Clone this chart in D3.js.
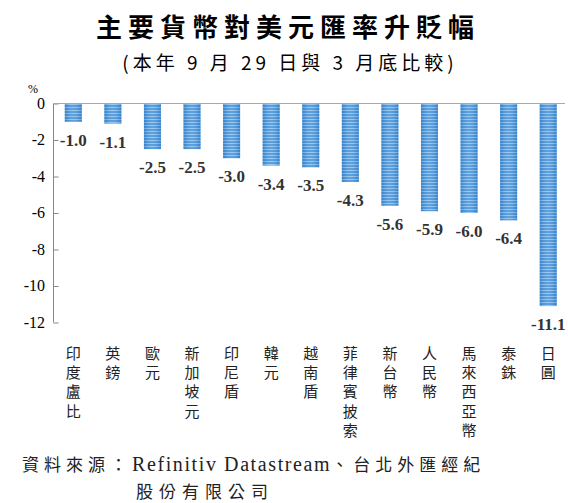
<!DOCTYPE html>
<html><head><meta charset="utf-8">
<script src="https://cdn.jsdelivr.net/npm/d3@7"></script>
<style>body{margin:0;background:#fff}svg{display:block}</style>
</head><body>
<script>
const categories = ["印度盧比","英鎊","歐元","新加坡元","印尼盾","韓元","越南盾","菲律賓披索","新台幣","人民幣","馬來西亞幣","泰銖","日圓"];
const values = [-1.0,-1.1,-2.5,-2.5,-3.0,-3.4,-3.5,-4.3,-5.6,-5.9,-6.0,-6.4,-11.1];
const yTicks = [0,-2,-4,-6,-8,-10,-12];
const title = "主要貨幣對美元匯率升貶幅";
const subtitle = "(本年 9 月 29 日與 3 月底比較)";
const sourceLabel = "資料來源：";
const sourceName = "Refinitiv Datastream";
const sourceRest = "、台北外匯經紀";
const source2 = "股份有限公司";

const W=568,H=503;
const svg=d3.select("body").append("svg").attr("width",W).attr("height",H);
const cjk="'Noto Sans CJK TC','Noto Sans CJK SC',sans-serif";
const serif="'Liberation Serif','DejaVu Serif',serif";

const defs=svg.append("defs");
const pat=defs.append("pattern").attr("id","stripes").attr("patternUnits","userSpaceOnUse").attr("width",20).attr("height",3);
pat.append("rect").attr("width",20).attr("height",3).attr("fill","#3f8fd8");
pat.append("rect").attr("y",2).attr("width",20).attr("height",1).attr("fill","#8cc0ee");
const grad=defs.append("linearGradient").attr("id","shade").attr("x1",0).attr("x2",1).attr("y1",0).attr("y2",0);
grad.append("stop").attr("offset","0%").attr("stop-color","#1f66b0").attr("stop-opacity",0.35);
grad.append("stop").attr("offset","50%").attr("stop-color","#ffffff").attr("stop-opacity",0.15);
grad.append("stop").attr("offset","100%").attr("stop-color","#1f66b0").attr("stop-opacity",0.35);

const x=d3.scaleBand().domain(categories).range([53.5,568]).paddingInner(0.57).paddingOuter(0.285);
const y=d3.scaleLinear().domain([0,-12]).range([103.5,322.5]);

// title
svg.append("text").attr("x",288).attr("y",37).attr("text-anchor","middle")
  .attr("font-family",cjk).attr("font-weight","bold").attr("font-size",26).attr("letter-spacing",6).text(title);
svg.append("text").attr("x",290).attr("y",70).attr("text-anchor","middle")
  .attr("font-family",cjk).attr("font-size",19).attr("letter-spacing",4).text(subtitle);
svg.append("text").attr("x",33).attr("y",93).attr("text-anchor","middle")
  .attr("font-family",serif).attr("font-size",12).text("%");

// axis
const ax=svg.append("g").attr("transform","translate(53.5,0)")
  .call(d3.axisRight(y).tickValues(yTicks).tickSize(5).tickFormat(""));
ax.select(".domain").attr("stroke","#888").attr("d","M0,103.5V322.5");
ax.selectAll(".tick line").attr("stroke","#888");
svg.selectAll(".ylab").data(yTicks).enter().append("text")
  .attr("x",45).attr("y",d=>y(d)+5).attr("text-anchor","end")
  .attr("font-family",serif).attr("font-size",16).text(d=>d);

// bars
const bars=svg.selectAll(".bar").data(values).enter();
bars.append("rect").attr("x",(d,i)=>x(categories[i])).attr("y",y(0))
  .attr("width",x.bandwidth()).attr("height",d=>y(d)-y(0)).attr("fill","url(#stripes)");
bars.append("rect").attr("x",(d,i)=>x(categories[i])).attr("y",y(0))
  .attr("width",x.bandwidth()).attr("height",d=>y(d)-y(0)).attr("fill","url(#shade)");

// zero line
svg.append("line").attr("x1",53.5).attr("x2",565).attr("y1",y(0)).attr("y2",y(0)).attr("stroke","#aaa");

// value labels
svg.selectAll(".vl").data(values).enter().append("text")
  .attr("x",(d,i)=>x(categories[i])+x.bandwidth()/2).attr("y",d=>y(d)+24)
  .attr("text-anchor","middle").attr("font-family",serif).attr("font-weight","bold")
  .attr("font-size",17).attr("fill","#333").text(d=>d.toFixed(1));

// category labels vertical
categories.forEach((c,i)=>{
  const cx=x(c)+x.bandwidth()/2;
  Array.from(c).forEach((ch,j)=>{
    svg.append("text").attr("x",cx).attr("y",359+j*19.2).attr("text-anchor","middle")
      .attr("font-family",cjk).attr("font-size",15).attr("fill","#222").text(ch);
  });
});

// source
svg.append("text").attr("x",22).attr("y",471).attr("font-size",17).attr("fill","#222")
  .call(t=>{
    t.append("tspan").attr("font-family",cjk).attr("letter-spacing",5).text(sourceLabel);
    t.append("tspan").attr("font-family",serif).attr("font-size",20).attr("letter-spacing",1.6).text(sourceName);
    t.append("tspan").attr("font-family",cjk).attr("letter-spacing",5).text(sourceRest);
  });
svg.append("text").attr("x",136).attr("y",498).attr("font-family",cjk).attr("font-size",17)
  .attr("letter-spacing",6).attr("fill","#222").text(source2);
</script>
</body></html>
